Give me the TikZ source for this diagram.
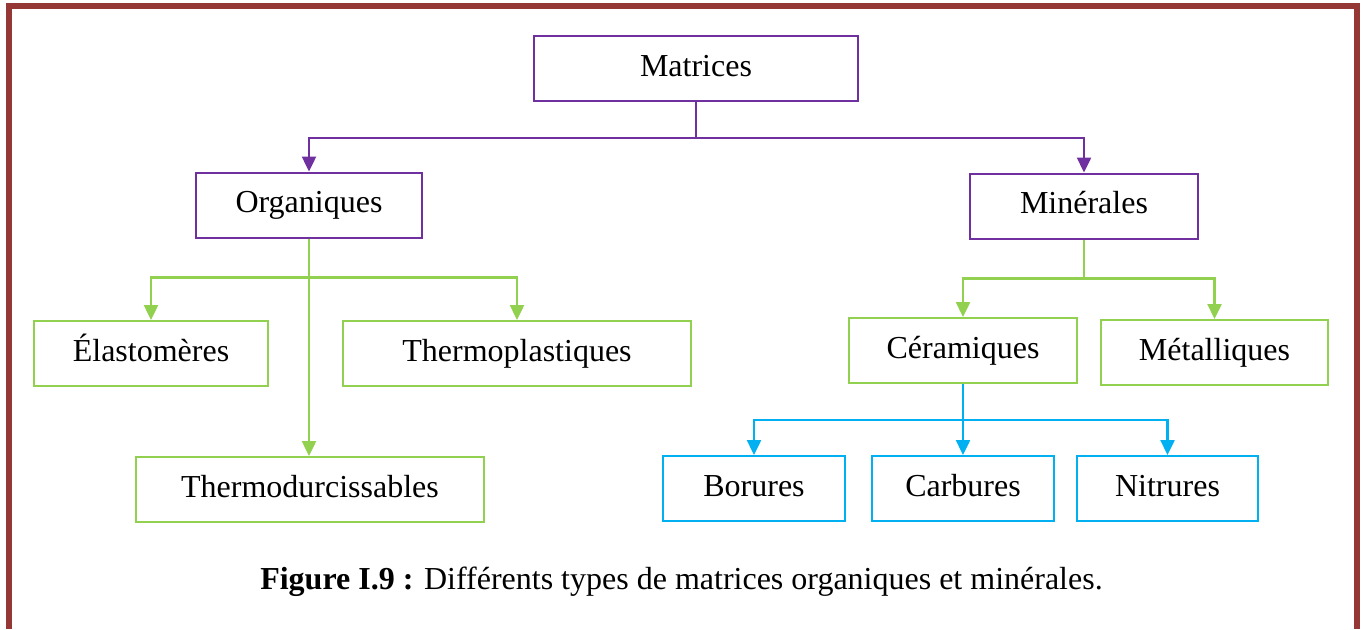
\documentclass[tikz,border=0pt]{standalone}
\usepackage{fontspec}
\setmainfont{Liberation Serif}
\usetikzlibrary{arrows.meta}
\definecolor{matpurple}{HTML}{7030A0}
\definecolor{orggreen}{HTML}{92D050}
\definecolor{cerblue}{HTML}{00B0F0}
\definecolor{framered}{HTML}{953735}
\begin{document}
\begin{tikzpicture}[x=0.5pt,y=-0.5pt,
    main node/.style={rectangle,draw,line width=1pt,minimum height=32.5pt,inner sep=0pt,text height=11.5pt,text depth=4pt,font=\fontsize{16}{19}\selectfont},
    purple node/.style={main node,draw=matpurple},
    green node/.style={main node,draw=orggreen},
    blue node/.style={main node,draw=cerblue},
    link/.style={line width=1.2pt,-{Triangle[length=7.5pt,width=7pt]}}]
    \useasboundingbox (0,0) rectangle (1364,629);
    \draw[framered,line width=3pt] (9,629) -- (9,6) -- (1357,6) -- (1357,629);

    \node[purple node,minimum width=162pt] at (696,68.5) (mat) {Matrices};
    \node[purple node,minimum width=113pt] at (309,205) (org) {Organiques};
    \node[purple node,minimum width=114pt] at (1084,206) (min) {Minérales};
    \node[green node,minimum width=117pt] at (151,353.5) (ela) {Élastomères};
    \node[green node,minimum width=174pt] at (517,353.5) (thp) {Thermoplastiques};
    \node[green node,minimum width=174pt] at (310,489.5) (thd) {Thermodurcissables};
    \node[green node,minimum width=114pt] at (963,350.5) (cer) {Céramiques};
    \node[green node,minimum width=113.5pt] at (1214.5,352.5) (met) {Métalliques};
    \node[blue node,minimum width=91pt] at (754,488.5) (bor) {Borures};
    \node[blue node,minimum width=91pt] at (963,488.5) (car) {Carbures};
    \node[blue node,minimum width=90.5pt] at (1167.5,488.5) (nit) {Nitrures};

    % Matrices
    \draw[matpurple,line width=1.2pt] (mat.south) -- ++(0,36) coordinate (jmat);
    \draw[matpurple,link] (jmat) -| (org);
    \draw[matpurple,link] (jmat) -| (min);
    % Organiques
    \draw[orggreen,link] (org.south) -- (org.south |- thd.north);
    \draw[orggreen,line width=1.2pt] (org.south) -- ++(0,39) coordinate (jorg);
    \draw[orggreen,link] (jorg) -| (ela);
    \draw[orggreen,link] (jorg) -| (thp);
    % Minerales
    \draw[orggreen,line width=1.2pt] (min.south) -- ++(0,39) coordinate (jmin);
    \draw[orggreen,link] (jmin) -| (cer);
    \draw[orggreen,link] (jmin) -| (met);
    % Ceramiques
    \draw[cerblue,link] (cer.south) -- (car.north);
    \draw[cerblue,line width=1.2pt] (cer.south) -- ++(0,36) coordinate (jcer);
    \draw[cerblue,link] (jcer) -| (bor);
    \draw[cerblue,link] (jcer) -| (nit);

    \node[font=\fontsize{16}{19}\selectfont] at (681.5,582) (cap) {\textbf{Figure I.9 :} Différents types de matrices organiques et minérales.};
\end{tikzpicture}
\end{document}
